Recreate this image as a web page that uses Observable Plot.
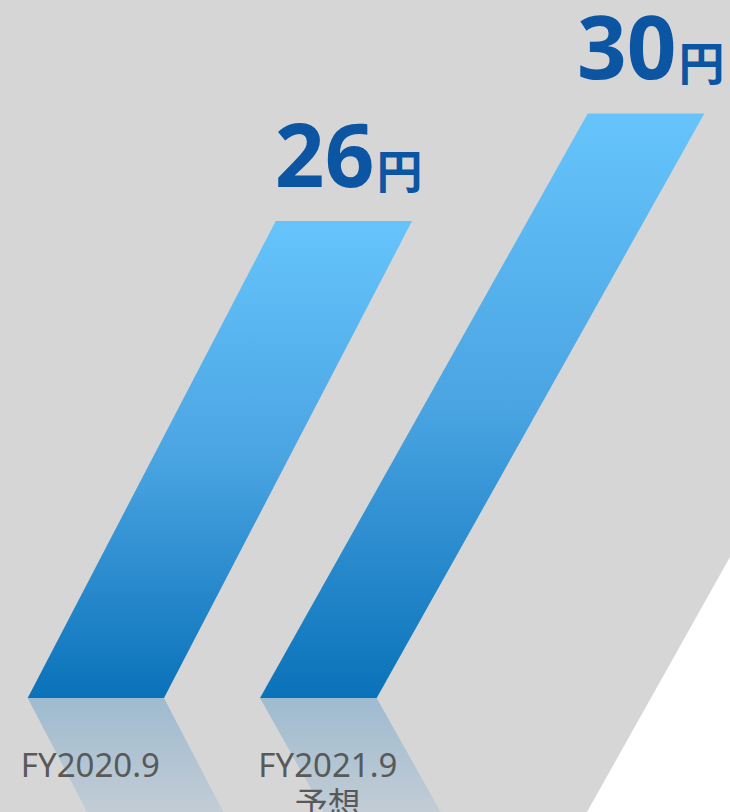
<!DOCTYPE html>
<html>
<head>
<meta charset="utf-8">
<script src="https://cdn.jsdelivr.net/npm/d3@7"></script>
<script src="https://cdn.jsdelivr.net/npm/@observablehq/plot@0.6"></script>
<style>
  html, body { margin: 0; padding: 0; background: #ffffff; overflow: hidden; }
  #chart svg { display: block; }
</style>
</head>
<body>
<div id="chart"></div>
<script>
// ---- data ----
const categories = ["FY2020.9", "FY2021.9\n予想"];
const values = [26, 30];
const unitLabel = "円";

// ---- layout (visual, not data) ----
const W = 730, H = 812;
const baseValue = 8.27;          // value where the slanted bars start
const yDomain = [4.03, 34.22];   // visible value range bottom..top
const barLayout = [
  {left: 27.7, width: 136.3, lean: 13.99, labelDx: -6},
  {left: 260.0, width: 116.7, lean: 15.08, labelDx: 9}
];
const bgEdge = {x0: 587, lean: 15.08};

const bars = [], reflections = [], tops = [], bottoms = [];
categories.forEach((cat, i) => {
  const v = values[i], L = barLayout[i];
  const off = y => L.lean * (y - baseValue);
  bars.push({cat, y: baseValue, x1: L.left, x2: L.left + L.width});
  bars.push({cat, y: v, x1: L.left + off(v), x2: L.left + L.width + off(v)});
  reflections.push({cat, y: baseValue, x1: L.left, x2: L.left + L.width});
  reflections.push({cat, y: yDomain[0], x1: L.left - off(yDomain[0]), x2: L.left + L.width - off(yDomain[0])});
  tops.push({cat, value: v, y: v, x: L.left + off(v) + L.width / 2});
  bottoms.push({cat, y: baseValue, x: L.left + L.width / 2 + L.labelDx});
});
const bg = [
  {y: yDomain[0], x2: bgEdge.x0},
  {y: yDomain[1], x2: bgEdge.x0 + bgEdge.lean * (yDomain[1] - yDomain[0])}
];

const valueColor = "#0b55a3";
const numFont = "'Noto Sans', 'Noto Sans CJK JP', sans-serif";

const chart = Plot.plot({
  width: W,
  height: H,
  margin: 0,
  x: {domain: [0, W], axis: null},
  y: {domain: yDomain, axis: null},
  style: {background: "#ffffff", overflow: "hidden"},
  marks: [
    Plot.areaX(bg, {y: "y", x1: 0, x2: "x2", fill: "#d6d6d6", clip: true}),
    Plot.areaX(reflections, {y: "y", x1: "x1", x2: "x2", z: "cat", fill: "url(#reflGrad)"}),
    Plot.areaX(bars, {y: "y", x1: "x1", x2: "x2", z: "cat", fill: "url(#barGrad)"}),
    Plot.text(tops, {
      x: "x", y: "y", text: d => String(d.value),
      textAnchor: "end", lineAnchor: "bottom", dx: 30, dy: -35,
      fontSize: 87, fontWeight: 700, fontFamily: numFont, fill: valueColor
    }),
    Plot.text(tops, {
      x: "x", y: "y", text: () => unitLabel,
      textAnchor: "start", lineAnchor: "bottom", dx: 32, dy: -34,
      fontSize: 46, fontWeight: 700, fontFamily: "'Noto Sans CJK JP', sans-serif", fill: valueColor
    }),
    Plot.text(bottoms, {
      x: "x", y: "y", text: "cat",
      textAnchor: "middle", lineAnchor: "top", dy: 50, lineHeight: 1.2,
      fontSize: 33, fontFamily: "'Noto Sans', 'Noto Sans CJK JP', sans-serif", fill: "#595959"
    })
  ]
});

const defs = d3.select(chart).insert("defs", ":first-child");
const g1 = defs.append("linearGradient").attr("id", "barGrad")
  .attr("x1", 0).attr("y1", 0).attr("x2", 0).attr("y2", 1);
g1.append("stop").attr("offset", "0%").attr("stop-color", "#66c4fb");
g1.append("stop").attr("offset", "50%").attr("stop-color", "#4aa4e2");
g1.append("stop").attr("offset", "100%").attr("stop-color", "#0a72b9");
const g2 = defs.append("linearGradient").attr("id", "reflGrad")
  .attr("x1", 0).attr("y1", 0).attr("x2", 0).attr("y2", 1);
g2.append("stop").attr("offset", "0%").attr("stop-color", "#9ebbd0");
g2.append("stop").attr("offset", "100%").attr("stop-color", "#c2ccd5");

document.getElementById("chart").appendChild(chart);
</script>
</body>
</html>
